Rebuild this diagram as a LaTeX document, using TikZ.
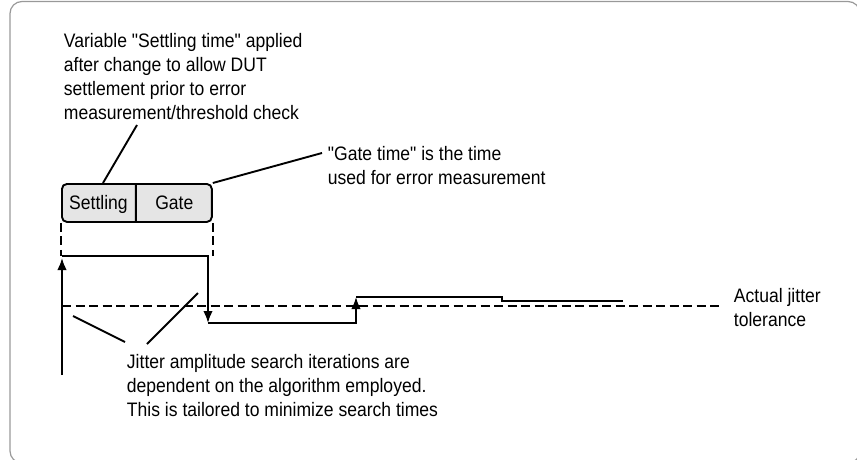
\documentclass[tikz,border=0pt]{standalone}
\usepackage{fontspec}
\setmainfont[FakeStretch=0.9, Ligatures=TeXOff]{Liberation Sans}
\usetikzlibrary{shapes,arrows.meta,positioning,calc}

\begin{document}
\begin{tikzpicture}[x=1pt, y=-1pt, line width=1.9pt,
    every node/.style={font=\fontsize{19.5}{24}\selectfont},
    note/.style={align=left, anchor=north west, inner sep=0pt},
    thresh/.style={dash pattern=on 9pt off 4.5pt},
    tip/.style={-{Latex[length=12pt,width=9.5pt]}}]
    \useasboundingbox (0,0) rectangle (857,460);
    \draw[black!40, line width=1.2pt, rounded corners=12pt] (10,1.5) rectangle (860,463);

    \node[note] (settlenote) at (63,32) {Variable "Settling time" applied\\after change to allow DUT\\settlement prior to error\\measurement/threshold check};
    \node[note] (gatenote) at (327,145) {"Gate time" is the time\\used for error measurement};
    \node[note] (jitnote) at (126,353) {Jitter amplitude search iterations are\\dependent on the algorithm employed.\\This is tailored to minimize search times};
    \node[note] (actnote) at (733,287) {Actual jitter\\tolerance};

    \node[rectangle split, rectangle split horizontal, rectangle split parts=2, draw, fill=black!10,
        rounded corners=5pt, inner xsep=0pt, inner ysep=12pt, anchor=north west]
        (window) at (61,183) {\makebox[73pt]{\smash{Settling}\rule{0pt}{14pt}}\nodepart{two}\makebox[75pt]{\smash{Gate}\rule{0pt}{14pt}}};

    % signal steps
    \coordinate (origin) at (62,375);
    \coordinate (top0) at (62,256);
    \coordinate (low0) at (208,323);
    \coordinate (up0) at (356,297);
    \coordinate (step0) at (502,297);
    \coordinate (end0) at (623,301);
    \coordinate (thr0) at (62,306);
    \coordinate (thr1) at (723,306);

    \draw[tip] (origin) -- ($(top0)+(0,2)$);
    \draw[tip] (top0) -| (low0);
    \draw[tip] (low0) -| (up0);
    \draw (up0) -- (step0) |- (end0);
    \draw[thresh] (thr0) -- (thr1);
    \draw[thresh] (window.south west) -- (window.south west |- top0);
    \draw[thresh] (window.south east) -- (window.south east |- top0);

    % leaders
    \coordinate (sl) at (137,125);
    \coordinate (gl) at (322,153);
    \coordinate (jl1) at (73,316);
    \coordinate (jl2) at (198,293);
    \draw (sl) -- ($(window.north west)+(42,0)$);
    \draw (window.north east) -- (gl);
    \draw (jl1) -- ($(jitnote.north west)+(-1,-11)$);
    \draw (jl2) -- ($(jitnote.north west)+(21,-9)$);
\end{tikzpicture}
\end{document}
